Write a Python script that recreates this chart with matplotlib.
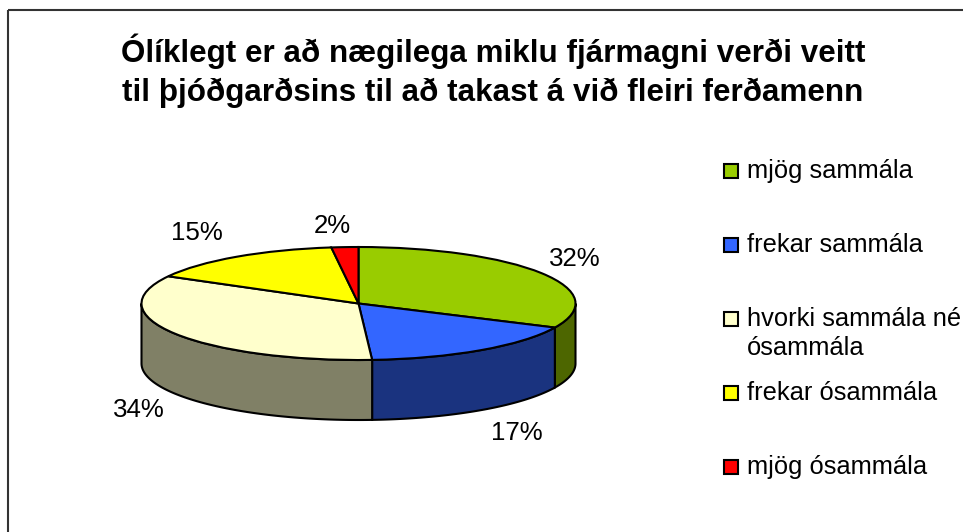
import numpy as np
import matplotlib
matplotlib.use("Agg")
import matplotlib.pyplot as plt
from matplotlib.patches import Rectangle

plt.rcParams['font.family'] = ['Liberation Sans', 'DejaVu Sans']

title = "Ólíklegt er að nægilega miklu fjármagni verði veitt\ntil þjóðgarðsins til að takast á við fleiri ferðamenn"
categories = ["mjög sammála", "frekar sammála", "hvorki sammála né\nósammála", "frekar ósammála", "mjög ósammála"]
values = [32, 17, 34, 15, 2]
labels = ["32%", "17%", "34%", "15%", "2%"]
top_colors = ["#99CC00", "#3366FF", "#FFFFCC", "#FFFF00", "#FF0000"]
side_colors = ["#4D6600", "#1A337F", "#808066", "#808000", "#800000"]

W, H = 963, 532
# pie geometry in pixels
CX, CY = 358.5, 303.5
RX, RY = 217, 56.5
DEPTH = 60
label_xy = [(575, 259), (517, 433), (139, 410), (197, 233), (332, 226)]
legend_y = [170, 244, 318, 392, 466]

fig = plt.figure(figsize=(W / 100, H / 100), dpi=100, facecolor="white")

# pie axes, one unit = one radius so the circle comes out squashed
ax = fig.add_axes([0, 0, 1, 1])
ax.pie(values, colors=top_colors, startangle=90, counterclock=False, radius=1,
       wedgeprops=dict(edgecolor="black", linewidth=1.5, zorder=3))
ax.set_aspect("auto")
ax.set_xlim(-CX / RX, (W - CX) / RX)
ax.set_ylim((CY - H) / RY, CY / RY)
ax.axis("off")

# side walls, only the front half (90 to 270 deg clockwise from top) shows
d = DEPTH / RY
edges = np.cumsum([0] + values) / sum(values) * 360
for i in range(len(values)):
    a0 = max(edges[i], 90)
    a1 = min(edges[i + 1], 270)
    if a0 >= a1:
        continue
    t = np.radians(np.linspace(a0, a1, 120))
    xs = np.sin(t)
    ys = np.cos(t)
    ax.fill(np.r_[xs, xs[::-1]], np.r_[ys, ys[::-1] - d], facecolor=side_colors[i],
            edgecolor="black", linewidth=1.5, zorder=2)

# frame, labels and legend in pixel coordinates
ov = fig.add_axes([0, 0, 1, 1], facecolor="none")
ov.set_xlim(0, W)
ov.set_ylim(H, 0)
ov.axis("off")
ov.add_patch(Rectangle((8, 9.5), W + 20, H + 20, fill=False, edgecolor="#333333", linewidth=1.5))
ov.text(493, 71, title, ha="center", va="center", fontsize=22.6, fontweight="bold",
        color="black", linespacing=1.36)

for lab, (x, y) in zip(labels, label_xy):
    ov.text(x, y, lab, ha="center", va="center", fontsize=18.6, color="black")

for cat, col, y in zip(categories, top_colors, legend_y):
    ov.add_patch(Rectangle((724, y - 6.5), 14, 14, facecolor=col, edgecolor="black", linewidth=1.5))
    ov.text(747, y - 11, cat, ha="left", va="top", fontsize=18.4, color="black", linespacing=1.28)

fig.savefig("out.png", dpi=100)
